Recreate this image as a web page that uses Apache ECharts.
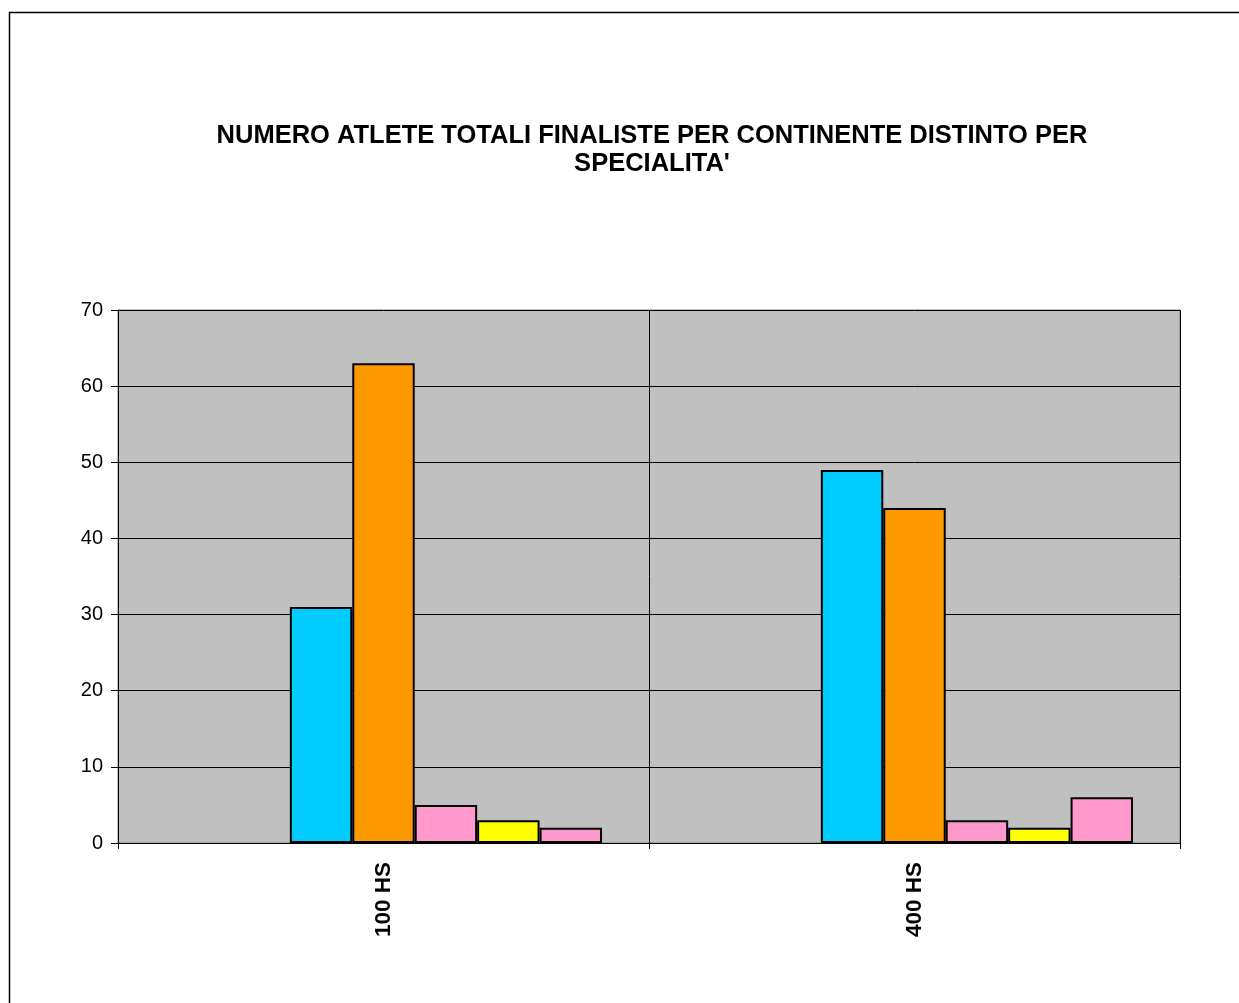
<!DOCTYPE html>
<html>
<head>
<meta charset="utf-8">
<script src="https://cdn.jsdelivr.net/npm/echarts@6/dist/echarts.min.js"></script>
<style>
html,body{margin:0;padding:0;background:#fff;}
#chart{width:1239px;height:1003px;}
</style>
</head>
<body>
<div id="chart"></div>
<script>
var titleText = "NUMERO ATLETE TOTALI FINALISTE PER CONTINENTE DISTINTO PER\nSPECIALITA'";
var categories = ["100 HS", "400 HS"];
var seriesNames = ["Serie1", "Serie2", "Serie3", "Serie4", "Serie5", "Serie6", "Serie7"];
var serie1 = [null, null];
var serie2 = [null, null];
var serie3 = [31, 49];
var serie4 = [63, 44];
var serie5 = [5, 3];
var serie6 = [3, 2];
var serie7 = [2, 6];
var seriesColors = ["#9999FF", "#993366", "#00CCFF", "#FF9900", "#FF99CC", "#FFFF00", "#FF99CC"];
var yTicks = [0, 10, 20, 30, 40, 50, 60, 70];

var allData = [serie1, serie2, serie3, serie4, serie5, serie6, serie7];
var chart = echarts.init(document.getElementById('chart'), null, {renderer: 'canvas'});
var series = allData.map(function (d, i) {
  return {
    name: seriesNames[i],
    type: 'bar',
    data: d,
    barGap: '0%',
    barCategoryGap: '17.7%',
    itemStyle: {color: seriesColors[i], borderColor: '#000', borderWidth: 2},
    animation: false
  };
});
chart.setOption({
  animation: false,
  title: {
    text: titleText,
    left: 647, top: 117, textAlign: 'center',
    textStyle: {fontFamily: 'Liberation Sans, Arial', fontWeight: 'bold', fontSize: 25.5, color: '#000', lineHeight: 28}
  },
  graphic: [{
    type: 'rect', shape: {x: 9.5, y: 12.5, width: 1260, height: 1020},
    style: {fill: 'none', stroke: '#000', lineWidth: 1.5}, silent: true
  }],
  grid: {
    left: 118, right: 59, top: 310, bottom: 160,
    show: true, backgroundColor: '#C0C0C0', borderColor: '#808080', borderWidth: 1
  },
  xAxis: {
    type: 'category', data: categories,
    axisLine: {lineStyle: {color: '#000', width: 1}},
    axisTick: {show: true, length: 6, lineStyle: {color: '#000'}},
    splitLine: {show: true, lineStyle: {color: '#000', width: 1}},
    axisLabel: {rotate: 90, fontFamily: 'Liberation Sans, Arial', fontWeight: 'bold', fontSize: 22.5, color: '#000', margin: 19}
  },
  yAxis: {
    type: 'value', min: yTicks[0], max: yTicks[yTicks.length - 1], interval: 10,
    axisLine: {show: true, lineStyle: {color: '#000', width: 1}},
    axisTick: {show: true, length: 7, lineStyle: {color: '#000'}},
    splitLine: {show: true, lineStyle: {color: '#000', width: 1}},
    axisLabel: {fontFamily: 'Liberation Sans, Arial', fontSize: 20, color: '#000', margin: 15}
  },
  series: series
});
</script>
</body>
</html>
